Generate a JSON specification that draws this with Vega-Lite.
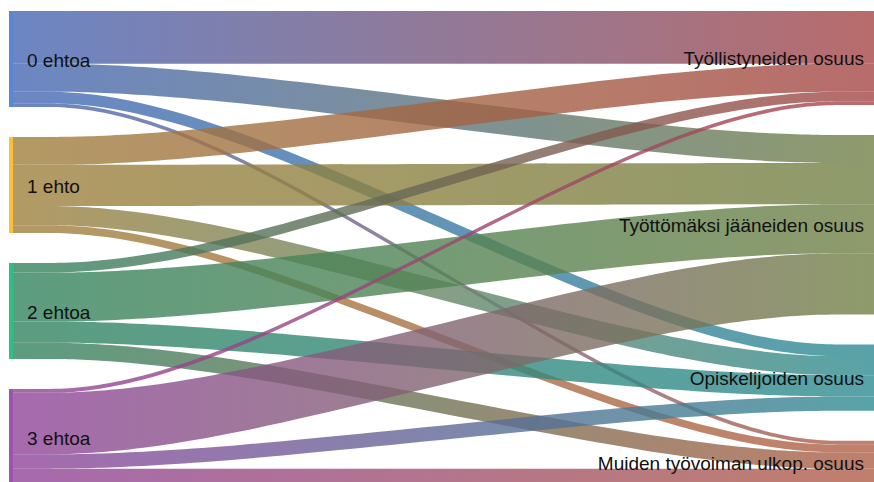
{
  "$schema": "https://vega.github.io/schema/vega-lite/v6.json",
  "width": 874,
  "height": 482,
  "padding": 0,
  "autosize": {"type": "none"},
  "background": "white",
  "config": {"view": {"stroke": null}, "text": {"font": "Liberation Sans"}},
  "data": {
    "values": [
      {"source": "0 ehtoa", "target": "Työllistyneiden osuus", "si": 0, "ti": 0, "value": 55},
      {"source": "0 ehtoa", "target": "Työttömäksi jääneiden osuus", "si": 0, "ti": 1, "value": 29},
      {"source": "0 ehtoa", "target": "Opiskelijoiden osuus", "si": 0, "ti": 2, "value": 12},
      {"source": "0 ehtoa", "target": "Muiden työvoiman ulkop. osuus", "si": 0, "ti": 3, "value": 4},
      {"source": "1 ehto", "target": "Työllistyneiden osuus", "si": 1, "ti": 0, "value": 29},
      {"source": "1 ehto", "target": "Työttömäksi jääneiden osuus", "si": 1, "ti": 1, "value": 43},
      {"source": "1 ehto", "target": "Opiskelijoiden osuus", "si": 1, "ti": 2, "value": 20},
      {"source": "1 ehto", "target": "Muiden työvoiman ulkop. osuus", "si": 1, "ti": 3, "value": 8},
      {"source": "2 ehtoa", "target": "Työllistyneiden osuus", "si": 2, "ti": 0, "value": 10},
      {"source": "2 ehtoa", "target": "Työttömäksi jääneiden osuus", "si": 2, "ti": 1, "value": 51},
      {"source": "2 ehtoa", "target": "Opiskelijoiden osuus", "si": 2, "ti": 2, "value": 22},
      {"source": "2 ehtoa", "target": "Muiden työvoiman ulkop. osuus", "si": 2, "ti": 3, "value": 17},
      {"source": "3 ehtoa", "target": "Työllistyneiden osuus", "si": 3, "ti": 0, "value": 4},
      {"source": "3 ehtoa", "target": "Työttömäksi jääneiden osuus", "si": 3, "ti": 1, "value": 64},
      {"source": "3 ehtoa", "target": "Opiskelijoiden osuus", "si": 3, "ti": 2, "value": 15},
      {"source": "3 ehtoa", "target": "Muiden työvoiman ulkop. osuus", "si": 3, "ti": 3, "value": 17}
    ]
  },
  "transform": [
    {"window": [{"op": "sum", "field": "value", "as": "cs"}], "sort": [{"field": "si"}, {"field": "ti"}]},
    {"window": [{"op": "sum", "field": "value", "as": "ct"}], "sort": [{"field": "ti"}, {"field": "si"}]},
    {"calculate": "datum.cs + datum.si * 31.25", "as": "ys2"},
    {"calculate": "datum.ys2 - datum.value", "as": "ys1"},
    {"calculate": "datum.ct + datum.ti * 31.25", "as": "yt2"},
    {"calculate": "datum.yt2 - datum.value", "as": "yt1"},
    {"fold": ["p0", "p1", "p2", "p3"], "as": ["pt", "pv"]},
    {"calculate": "datum.pt == 'p0' ? 0 : (datum.pt == 'p1' ? 0.2 : (datum.pt == 'p2' ? 0.8 : 1))", "as": "px"},
    {"calculate": "(datum.pt == 'p0' || datum.pt == 'p1') ? datum.ys1 : datum.yt1", "as": "ylo"},
    {"calculate": "(datum.pt == 'p0' || datum.pt == 'p1') ? datum.ys2 : datum.yt2", "as": "yhi"}
  ],
  "layer": [
    {
      "encoding": {
        "x": {"field": "px", "type": "quantitative", "scale": {"domain": [-0.0151, 1], "nice": false, "zero": false}, "axis": null},
        "y": {"field": "ylo", "type": "quantitative", "scale": {"domain": [-11.458, 490.625], "reverse": true, "nice": false, "zero": false}, "axis": null},
        "y2": {"field": "yhi"}
      },
      "layer": [
        {"transform": [{"filter": "datum.si == 0 && datum.ti == 0"}], "mark": {"type": "area", "interpolate": "basis", "fillOpacity": 0.8, "color": {"gradient": "linear", "x1": 0, "y1": 0, "x2": 1, "y2": 0, "stops": [{"offset": 0, "color": "#4768b5"}, {"offset": 1, "color": "#a64747"}]}}},
        {"transform": [{"filter": "datum.si == 0 && datum.ti == 1"}], "mark": {"type": "area", "interpolate": "basis", "fillOpacity": 0.8, "color": {"gradient": "linear", "x1": 0, "y1": 0, "x2": 1, "y2": 0, "stops": [{"offset": 0, "color": "#4768b5"}, {"offset": 1, "color": "#728146"}]}}},
        {"transform": [{"filter": "datum.si == 0 && datum.ti == 2"}], "mark": {"type": "area", "interpolate": "basis", "fillOpacity": 0.8, "color": {"gradient": "linear", "x1": 0, "y1": 0, "x2": 1, "y2": 0, "stops": [{"offset": 0, "color": "#4768b5"}, {"offset": 1, "color": "#2f8c92"}]}}},
        {"transform": [{"filter": "datum.si == 0 && datum.ti == 3"}], "mark": {"type": "area", "interpolate": "basis", "fillOpacity": 0.8, "color": {"gradient": "linear", "x1": 0, "y1": 0, "x2": 1, "y2": 0, "stops": [{"offset": 0, "color": "#4768b5"}, {"offset": 1, "color": "#b05f47"}]}}},
        {"transform": [{"filter": "datum.si == 1 && datum.ti == 0"}], "mark": {"type": "area", "interpolate": "basis", "fillOpacity": 0.8, "color": {"gradient": "linear", "x1": 0, "y1": 0, "x2": 1, "y2": 0, "stops": [{"offset": 0, "color": "#a0813e"}, {"offset": 1, "color": "#a64747"}]}}},
        {"transform": [{"filter": "datum.si == 1 && datum.ti == 1"}], "mark": {"type": "area", "interpolate": "basis", "fillOpacity": 0.8, "color": {"gradient": "linear", "x1": 0, "y1": 0, "x2": 1, "y2": 0, "stops": [{"offset": 0, "color": "#a0813e"}, {"offset": 1, "color": "#728146"}]}}},
        {"transform": [{"filter": "datum.si == 1 && datum.ti == 2"}], "mark": {"type": "area", "interpolate": "basis", "fillOpacity": 0.8, "color": {"gradient": "linear", "x1": 0, "y1": 0, "x2": 1, "y2": 0, "stops": [{"offset": 0, "color": "#a0813e"}, {"offset": 1, "color": "#2f8c92"}]}}},
        {"transform": [{"filter": "datum.si == 1 && datum.ti == 3"}], "mark": {"type": "area", "interpolate": "basis", "fillOpacity": 0.8, "color": {"gradient": "linear", "x1": 0, "y1": 0, "x2": 1, "y2": 0, "stops": [{"offset": 0, "color": "#a0813e"}, {"offset": 1, "color": "#b05f47"}]}}},
        {"transform": [{"filter": "datum.si == 2 && datum.ti == 0"}], "mark": {"type": "area", "interpolate": "basis", "fillOpacity": 0.8, "color": {"gradient": "linear", "x1": 0, "y1": 0, "x2": 1, "y2": 0, "stops": [{"offset": 0, "color": "#338460"}, {"offset": 1, "color": "#a64747"}]}}},
        {"transform": [{"filter": "datum.si == 2 && datum.ti == 1"}], "mark": {"type": "area", "interpolate": "basis", "fillOpacity": 0.8, "color": {"gradient": "linear", "x1": 0, "y1": 0, "x2": 1, "y2": 0, "stops": [{"offset": 0, "color": "#338460"}, {"offset": 1, "color": "#728146"}]}}},
        {"transform": [{"filter": "datum.si == 2 && datum.ti == 2"}], "mark": {"type": "area", "interpolate": "basis", "fillOpacity": 0.8, "color": {"gradient": "linear", "x1": 0, "y1": 0, "x2": 1, "y2": 0, "stops": [{"offset": 0, "color": "#338460"}, {"offset": 1, "color": "#2f8c92"}]}}},
        {"transform": [{"filter": "datum.si == 2 && datum.ti == 3"}], "mark": {"type": "area", "interpolate": "basis", "fillOpacity": 0.8, "color": {"gradient": "linear", "x1": 0, "y1": 0, "x2": 1, "y2": 0, "stops": [{"offset": 0, "color": "#338460"}, {"offset": 1, "color": "#b05f47"}]}}},
        {"transform": [{"filter": "datum.si == 3 && datum.ti == 0"}], "mark": {"type": "area", "interpolate": "basis", "fillOpacity": 0.8, "color": {"gradient": "linear", "x1": 0, "y1": 0, "x2": 1, "y2": 0, "stops": [{"offset": 0, "color": "#90459a"}, {"offset": 1, "color": "#a64747"}]}}},
        {"transform": [{"filter": "datum.si == 3 && datum.ti == 1"}], "mark": {"type": "area", "interpolate": "basis", "fillOpacity": 0.8, "color": {"gradient": "linear", "x1": 0, "y1": 0, "x2": 1, "y2": 0, "stops": [{"offset": 0, "color": "#90459a"}, {"offset": 1, "color": "#728146"}]}}},
        {"transform": [{"filter": "datum.si == 3 && datum.ti == 2"}], "mark": {"type": "area", "interpolate": "basis", "fillOpacity": 0.8, "color": {"gradient": "linear", "x1": 0, "y1": 0, "x2": 1, "y2": 0, "stops": [{"offset": 0, "color": "#90459a"}, {"offset": 1, "color": "#2f8c92"}]}}},
        {"transform": [{"filter": "datum.si == 3 && datum.ti == 3"}], "mark": {"type": "area", "interpolate": "basis", "fillOpacity": 0.8, "color": {"gradient": "linear", "x1": 0, "y1": 0, "x2": 1, "y2": 0, "stops": [{"offset": 0, "color": "#90459a"}, {"offset": 1, "color": "#b05f47"}]}}}
      ]
    },
    {
      "transform": [{"aggregate": [{"op": "min", "field": "ys1", "as": "lo"}, {"op": "max", "field": "ys2", "as": "hi"}], "groupby": ["source"]}],
      "mark": {"type": "rule", "strokeWidth": 4, "xOffset": -2},
      "encoding": {
        "x": {"datum": 0, "type": "quantitative"},
        "y": {"field": "lo", "type": "quantitative"},
        "y2": {"field": "hi"},
        "color": {"field": "source", "type": "nominal", "legend": null, "scale": {"domain": ["0 ehtoa", "1 ehto", "2 ehtoa", "3 ehtoa"], "range": ["#5a87d2", "#fbbf3c", "#2fbf80", "#9a55ad"]}}
      }
    },
    {
      "transform": [
        {"aggregate": [{"op": "min", "field": "ys1", "as": "lo"}, {"op": "max", "field": "ys2", "as": "hi"}], "groupby": ["source"]},
        {"calculate": "(datum.lo + datum.hi) / 2", "as": "mid"}
      ],
      "mark": {"type": "text", "align": "left", "baseline": "middle", "dx": 14, "dy": 2, "fontSize": 19, "color": "#111111"},
      "encoding": {
        "x": {"datum": 0, "type": "quantitative"},
        "y": {"field": "mid", "type": "quantitative"},
        "text": {"field": "source"}
      }
    },
    {
      "transform": [
        {"aggregate": [{"op": "min", "field": "yt1", "as": "lo"}, {"op": "max", "field": "yt2", "as": "hi"}], "groupby": ["target"]},
        {"calculate": "(datum.lo + datum.hi) / 2", "as": "mid"}
      ],
      "mark": {"type": "text", "align": "right", "baseline": "middle", "dx": -10, "dy": 1, "fontSize": 19, "color": "#111111"},
      "encoding": {
        "x": {"datum": 1, "type": "quantitative"},
        "y": {"field": "mid", "type": "quantitative"},
        "text": {"field": "target"}
      }
    }
  ]
}
